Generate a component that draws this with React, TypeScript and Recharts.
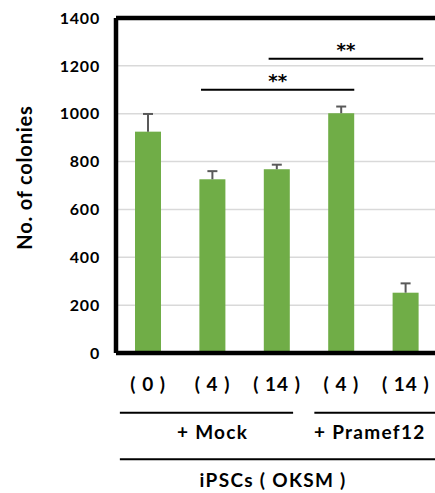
import { BarChart, Bar, XAxis, YAxis, CartesianGrid, ReferenceLine, ReferenceDot } from "recharts"

const FONT = "Lato, 'Open Sans', sans-serif"

// days after transduction, per bar
const dayLabels = ["( 0 )", "( 4 )", "( 14 )", "( 4 )", "( 14 )"]
const colonies = [925, 726, 768, 1002, 252]
const errors = [74, 34, 19, 28, 39]
const yTicks = [0, 200, 400, 600, 800, 1000, 1200, 1400]

// grouping captions under the day labels
const groupPos = [1, 3.44]
const groupLabels = ["+ Mock", "+ Pramef12"]
const cellPos = 1.94
const cellLabel = "iPSCs ( OKSM )"

const data = colonies.map((value, i) => ({ x: i, value, err: errors[i] }))

function BarWithError(props: any) {
  const { x, y, width, height, payload } = props
  const errPx = payload.value ? (payload.err * height) / payload.value : 0
  const cx = x + width / 2
  return (
    <g>
      <rect x={x} y={y} width={width} height={height} fill="#70ad47" />
      <line x1={cx} y1={y} x2={cx} y2={y - errPx} stroke="#595959" strokeWidth={2} />
      <line x1={cx - 5} y1={y - errPx} x2={cx + 5} y2={y - errPx} stroke="#595959" strokeWidth={2} />
    </g>
  )
}

const starLabel = {
  value: "**",
  position: "top" as const,
  offset: 3,
  fill: "#000",
  fontSize: 18,
  fontWeight: 700,
  fontFamily: "'DejaVu Sans', sans-serif",
}

const textLabel = (value: string) => ({
  value,
  position: "center" as const,
  fill: "#000",
  fontSize: 19,
  fontWeight: 700,
  letterSpacing: 1.3,
  fontFamily: FONT,
})

export default function App() {
  return (
    <div style={{ width: 435, height: 493, overflow: "hidden" }}>
      <style>{"body{margin:0;overflow:hidden}"}</style>
      <BarChart width={440} height={493} data={data} margin={{ top: 18, right: 2, left: 0, bottom: 0 }}>
        <CartesianGrid vertical={false} stroke="#d9d9d9" strokeWidth={1.5} />
        <XAxis
          dataKey="x"
          type="number"
          domain={[-0.5, 4.5]}
          allowDataOverflow
          ticks={[0, 1, 2, 3, 4]}
          interval={0}
          tickFormatter={(i: number) => dayLabels[i]}
          axisLine={{ stroke: "#000", strokeWidth: 4.5 }}
          tickLine={false}
          tickSize={0}
          tickMargin={25}
          height={140}
          tick={{ fill: "#000", fontSize: 19, fontWeight: 700, letterSpacing: 1, fontFamily: FONT }}
        />
        <YAxis
          domain={[0, 1400]}
          ticks={yTicks}
          interval={0}
          axisLine={{ stroke: "#000", strokeWidth: 4.5 }}
          tickLine={false}
          tickSize={0}
          tickMargin={16}
          width={116}
          tick={{ fill: "#000", fontSize: 16, fontWeight: 700, letterSpacing: 0.8, fontFamily: FONT }}
          label={{ value: "No.  of  colonies", angle: -90, position: "center", dx: -33, dy: -8, fill: "#000", fontSize: 20, fontWeight: 700, letterSpacing: 0.8, fontFamily: FONT }}
        />
        <Bar dataKey="value" barSize={26} shape={<BarWithError />} isAnimationActive={false} />
        <ReferenceLine y={1400} stroke="#000" strokeWidth={4.5} ifOverflow="visible" />
        <ReferenceLine segment={[{ x: 0.82, y: 1100 }, { x: 3.2, y: 1100 }]} stroke="#000" strokeWidth={2} ifOverflow="visible" label={starLabel} />
        <ReferenceLine segment={[{ x: 1.87, y: 1230 }, { x: 4.27, y: 1230 }]} stroke="#000" strokeWidth={2} ifOverflow="visible" label={starLabel} />
        <ReferenceLine segment={[{ x: -0.44, y: -250 }, { x: 2.25, y: -250 }]} stroke="#000" strokeWidth={2} ifOverflow="visible" />
        <ReferenceLine segment={[{ x: 2.58, y: -250 }, { x: 4.7, y: -250 }]} stroke="#000" strokeWidth={2} ifOverflow="visible" />
        <ReferenceLine segment={[{ x: -0.44, y: -444 }, { x: 4.7, y: -444 }]} stroke="#000" strokeWidth={2} ifOverflow="visible" />
        {groupPos.map((gx, i) => (
          <ReferenceDot key={gx} x={gx} y={-330} r={0} fill="none" stroke="none" ifOverflow="visible" label={textLabel(groupLabels[i])} />
        ))}
        <ReferenceDot x={cellPos} y={-531} r={0} fill="none" stroke="none" ifOverflow="visible" label={textLabel(cellLabel)} />
      </BarChart>
    </div>
  )
}
